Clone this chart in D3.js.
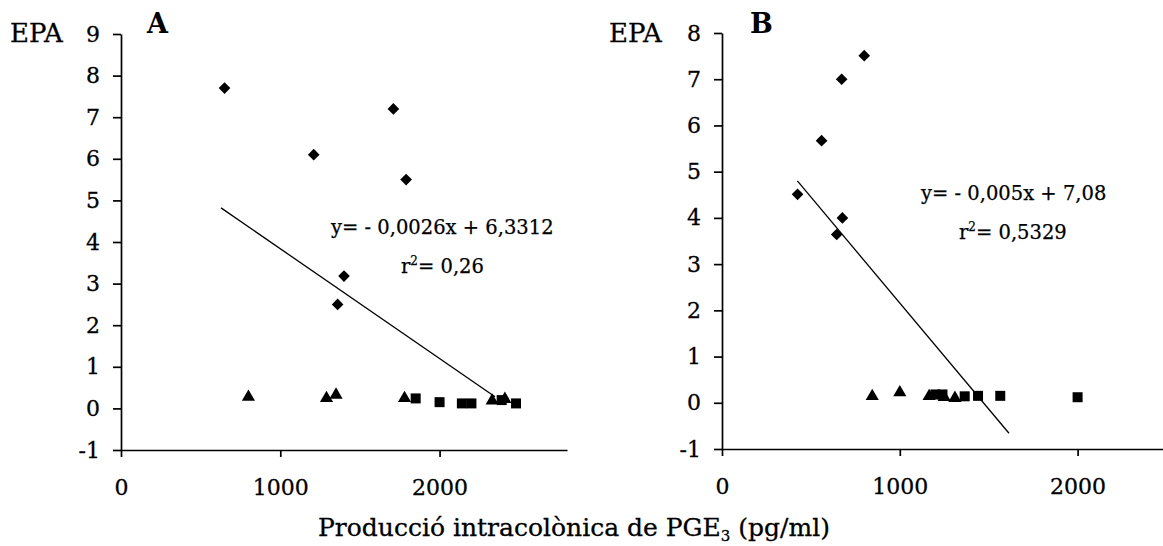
<!DOCTYPE html>
<html>
<head>
<meta charset="utf-8">
<script src="https://cdn.jsdelivr.net/npm/d3@7"></script>
<style>
  body { margin: 0; background: #fff; }
  svg text { font-family: "DejaVu Serif", serif; fill: #000; }
</style>
</head>
<body>
<script>
// panel A: EPA vs PGE3
const panelA_diamonds = [[650, 7.7], [1210, 6.1], [1710, 7.2], [1790, 5.5], [1400, 3.18], [1360, 2.5]];
const panelA_triangles = [[800, 0.25], [1290, 0.22], [1350, 0.3], [1780, 0.22], [2330, 0.16], [2410, 0.2]];
const panelA_squares = [[1850, 0.24], [2000, 0.15], [2140, 0.12], [2200, 0.12], [2390, 0.2], [2480, 0.12]];
const panelA_trend = [[628, 4.82], [2348, 0.28]];
const panelA_yTicks = [-1, 0, 1, 2, 3, 4, 5, 6, 7, 8, 9];

// panel B
const panelB_diamonds = [[425, 4.51], [560, 5.67], [673, 7.0], [800, 7.51], [677, 4.0], [645, 3.64]];
const panelB_triangles = [[845, 0.12], [1000, 0.2], [1165, 0.12], [1250, 0.1], [1310, 0.08]];
const panelB_squares = [[1200, 0.18], [1240, 0.18], [1365, 0.14], [1440, 0.15], [1565, 0.15], [2000, 0.12]];
const panelB_trend = [[424, 4.8], [1614, -0.66]];
const panelB_yTicks = [-1, 0, 1, 2, 3, 4, 5, 6, 7, 8];

const xTicks = [0, 1000, 2000];

const width = 1163;
const height = 546;

const svg = d3.select('body')
  .append('svg')
  .attr('width', width)
  .attr('height', height);

svg.append('rect').attr('width', width).attr('height', height).attr('fill', '#fff');

function drawPanel(opt) {
  const x = d3.scaleLinear().domain(opt.xDomain).range(opt.xRange);
  const y = d3.scaleLinear().domain(opt.yDomain).range(opt.yRange);
  const g = svg.append('g');

  // y axis
  const yAxis = g.append('g')
    .attr('transform', `translate(${opt.xRange[0]},0)`)
    .call(d3.axisLeft(y).tickValues(opt.yTicks).tickSize(8).tickSizeOuter(0).tickPadding(13).tickFormat(d3.format('d')));
  // x axis
  const xAxis = g.append('g')
    .attr('transform', `translate(0,${opt.yRange[0]})`)
    .call(d3.axisBottom(x).tickValues(xTicks).tickSize(7).tickSizeOuter(0).tickPadding(22).tickFormat(d3.format('d')));

  [yAxis, xAxis].forEach((a) => {
    a.selectAll('path.domain').attr('stroke', '#000').attr('stroke-width', 1.7);
    a.selectAll('line').attr('stroke', '#000').attr('stroke-width', 1.7);
    a.selectAll('text')
      .style('font-size', '22px')
      .style('font-family', '"DejaVu Serif", serif')
      .attr('fill', '#000')
      .attr('stroke', '#000')
      .attr('stroke-width', 0.3);
  });
  yAxis.selectAll('text').text((d) => (d < 0 ? '-' + Math.abs(d) : d));

  // trend line
  g.append('path')
    .datum(opt.trend)
    .attr('d', d3.line().x((d) => x(d[0])).y((d) => y(d[1])))
    .attr('fill', 'none')
    .attr('stroke', '#000')
    .attr('stroke-width', 1.3);

  // markers
  const diamond = d3.symbol().type(d3.symbolSquare).size(68)();
  const square = d3.symbol().type(d3.symbolSquare).size(100)();
  const triangle = d3.symbol().type(d3.symbolTriangle).size(75)();

  g.selectAll('.sq').data(opt.squares).enter().append('path')
    .attr('d', square)
    .attr('transform', (d) => `translate(${x(d[0])},${y(d[1])})`)
    .attr('fill', '#000');
  g.selectAll('.tri').data(opt.triangles).enter().append('path')
    .attr('d', triangle)
    .attr('transform', (d) => `translate(${x(d[0])},${y(d[1]) - 1})`)
    .attr('fill', '#000');
  g.selectAll('.dia').data(opt.diamonds).enter().append('path')
    .attr('d', diamond)
    .attr('transform', (d) => `translate(${x(d[0])},${y(d[1])}) rotate(45)`)
    .attr('fill', '#000');

  // labels
  g.append('text').attr('x', opt.epaX).attr('y', 42).style('font-size', '26px')
    .attr('stroke', '#000').attr('stroke-width', 0.3).text('EPA');
  g.append('text').attr('x', opt.letterX).attr('y', 33).style('font-size', '27px').style('font-weight', 'bold').text(opt.letter);

  g.append('text').attr('x', opt.eqX).attr('y', opt.eqY).style('font-size', '19.5px')
    .attr('stroke', '#000').attr('stroke-width', 0.25).text(opt.eq);
  const r = g.append('text').attr('x', opt.rX).attr('y', opt.rY).style('font-size', '19.5px')
    .attr('stroke', '#000').attr('stroke-width', 0.25);
  r.append('tspan').text('r');
  r.append('tspan').attr('dy', -8).style('font-size', '12px').text('2');
  r.append('tspan').attr('dy', 8).text('= ' + opt.r2);
}

drawPanel({
  xDomain: [0, 2800], xRange: [121, 567],
  yDomain: [-1, 9], yRange: [450, 34],
  yTicks: panelA_yTicks,
  diamonds: panelA_diamonds, triangles: panelA_triangles, squares: panelA_squares, trend: panelA_trend,
  epaX: 10, letterX: 147, letter: 'A',
  eq: 'y= - 0,0026x + 6,3312', eqX: 331, eqY: 234,
  r2: '0,26', rX: 401, rY: 273,
});

drawPanel({
  xDomain: [0, 2500], xRange: [722, 1166.5],
  yDomain: [-1, 8], yRange: [449, 33],
  yTicks: panelB_yTicks,
  diamonds: panelB_diamonds, triangles: panelB_triangles, squares: panelB_squares, trend: panelB_trend,
  epaX: 609, letterX: 750, letter: 'B',
  eq: 'y= - 0,005x + 7,08', eqX: 921, eqY: 200,
  r2: '0,5329', rX: 959, rY: 239,
});

// shared x-axis title
const title = svg.append('text')
  .attr('x', 574)
  .attr('y', 536)
  .attr('text-anchor', 'middle')
  .attr('stroke', '#000')
  .attr('stroke-width', 0.3)
  .style('font-size', '25px');
title.append('tspan').text('Producció intracolònica de PGE');
title.append('tspan').attr('dy', 5).style('font-size', '15px').text('3');
title.append('tspan').attr('dy', -5).text(' (pg/ml)');
</script>
</body>
</html>
